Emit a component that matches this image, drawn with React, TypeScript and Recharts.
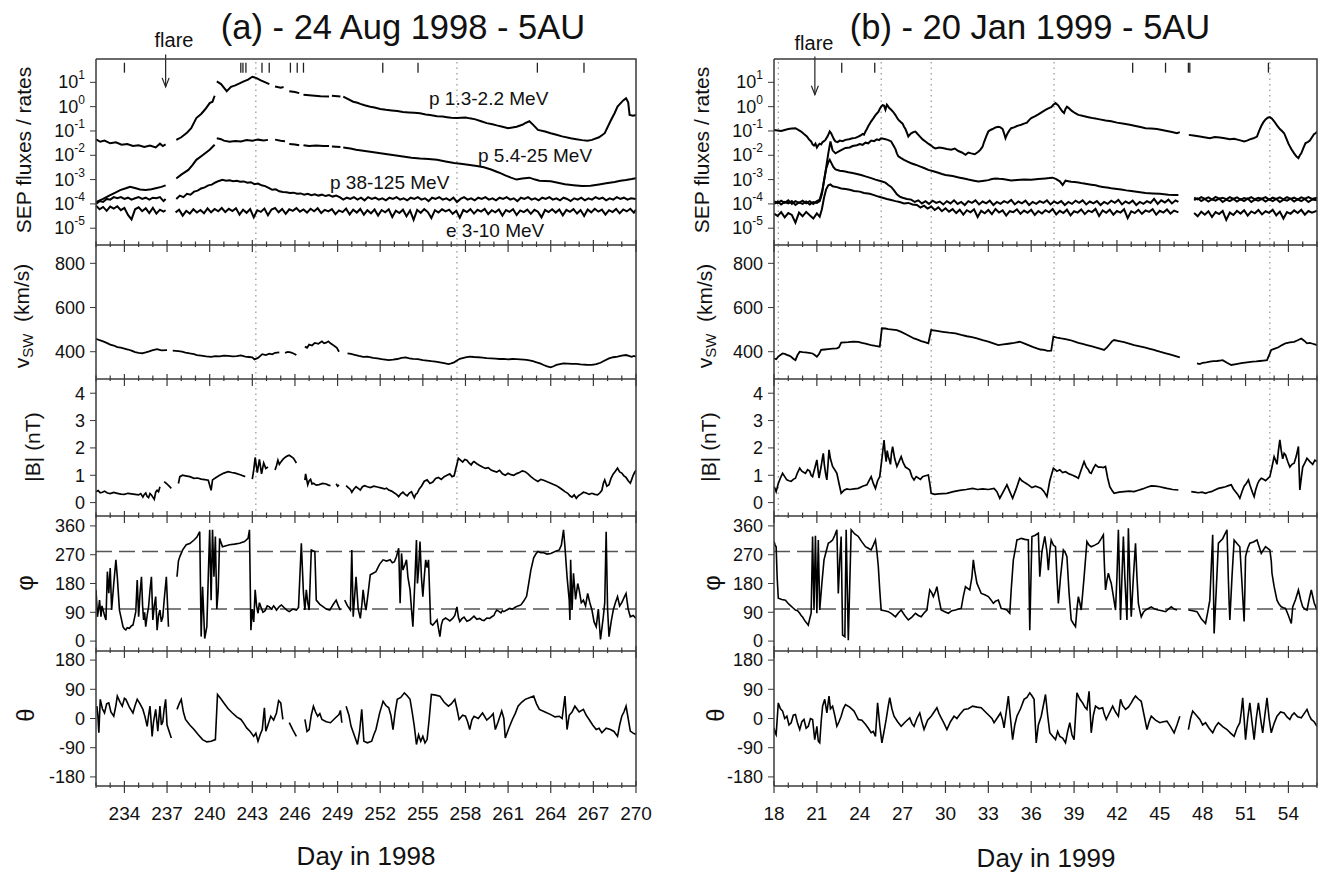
import type { ReactNode } from 'react'
import { LineChart, Line, XAxis, YAxis, ReferenceLine } from 'recharts'

const FONT = "'Liberation Sans', Arial, Helvetica, sans-serif"
const INK = '#111'
const FRAME = '#3a3a3a'
const YW = 90

type Pt = [number, number | null]

// ---- x axes ----
const LEFT_DAYS = [232, 233, 234, 235, 236, 237, 238, 239, 240, 241, 242, 243, 244, 245, 246, 247, 248, 249, 250, 251, 252, 253, 254, 255, 256, 257, 258, 259, 260, 261, 262, 263, 264, 265, 266, 267, 268, 269, 270]
const RIGHT_DAYS = [18, 19, 20, 21, 22, 23, 24, 25, 26, 27, 28, 29, 30, 31, 32, 33, 34, 35, 36, 37, 38, 39, 40, 41, 42, 43, 44, 45, 46, 47, 48, 49, 50, 51, 52, 53, 54, 55, 56]

const SEP_TICKS = [1e-5, 1e-4, 1e-3, 1e-2, 1e-1, 1, 10]
const VSW_TICKS = [400, 600, 800]
const B_TICKS = [0, 1, 2, 3, 4]
const PHI_TICKS = [0, 90, 180, 270, 360]
const THETA_TICKS = [-180, -90, 0, 90, 180]
const PHI_SPIRAL = [100, 280]

// ---- events ----
const LEFT_FLARE = 236.9
const RIGHT_FLARE = 20.86
const LEFT_EVENTS = [234.0, 242.19, 242.34, 242.55, 243.68, 244.19, 245.68, 246.16, 246.6, 252.18, 254.66, 263.06, 266.34]
const RIGHT_EVENTS = [22.74, 25.05, 43.1, 45.4, 47.0, 47.1, 52.6]
const LEFT_DOTTED = [243.25, 257.4]
const RIGHT_DOTTED = [18.3, 25.5, 29.0, 37.6, 52.7]

// ---- (a) 1998 SEP ----
const L_P13: Pt[] = [[232.0,0.045],[232.3,0.036],[232.6,0.040],[233.0,0.031],[233.4,0.034],[233.8,0.027],[234.2,0.029],[234.6,0.024],[235.0,0.026],[235.4,0.022],[235.8,0.025],[236.2,0.021],[236.5,0.030],[236.7,0.024],[236.9,0.028],[237.1,null],[237.65,0.043],[238.0,0.055],[238.4,0.085],[238.7,0.13],[239.06,0.34],[239.4,0.5],[239.7,0.8],[240.0,1.4],[240.2,1.6],[240.35,2.8],[240.42,null],[240.5,11],[240.8,8.5],[241.0,6.0],[241.2,4.3],[241.5,6.5],[241.8,7.5],[242.1,9.0],[242.4,11],[242.7,13],[243.0,17],[243.3,15],[243.6,12],[244.0,9.5],[244.2,8.5],[244.35,null],[244.6,6.8],[245.0,6.0],[245.2,6.4],[245.35,null],[245.6,4.3],[246.0,4.0],[246.3,3.6],[246.45,null],[246.6,3.1],[247.2,2.9],[247.8,2.7],[248.4,2.6],[248.5,null],[248.6,2.8],[249.2,2.6],[249.3,null],[249.4,2.6],[250.1,1.6],[250.4,1.45],[250.6,1.3],[250.9,1.15],[251.3,1.0],[251.6,0.92],[252.0,0.8],[252.4,0.74],[252.8,0.70],[253.2,0.66],[253.6,0.60],[254.0,0.58],[254.4,0.56],[254.8,0.53],[255.2,0.48],[255.5,0.45],[256.0,0.40],[256.4,0.39],[256.7,0.37],[257.0,0.35],[257.4,0.34],[258.0,0.36],[258.3,0.33],[258.7,0.30],[259.1,0.25],[259.5,0.21],[259.9,0.19],[260.2,0.17],[260.6,0.15],[261.0,0.13],[261.3,0.14],[261.6,0.15],[262.0,0.18],[262.2,0.21],[262.5,0.25],[262.8,0.17],[263.1,0.11],[263.6,0.095],[264.0,0.081],[264.4,0.070],[264.8,0.060],[265.4,0.050],[265.8,0.046],[266.2,0.042],[266.6,0.040],[266.9,0.043],[267.4,0.055],[267.8,0.081],[268.2,0.25],[268.5,0.55],[268.7,1.0],[269.1,1.8],[269.3,2.2],[269.45,1.5],[269.55,0.46],[269.8,0.42],[270.0,0.45]]

const L_P54: Pt[] = [[232.0,1.2e-4],[232.5,1.6e-4],[233.0,2.3e-4],[233.4,3.0e-4],[233.7,3.7e-4],[234.1,4.4e-4],[234.4,5.1e-4],[234.8,4.4e-4],[235.1,3.9e-4],[235.5,3.7e-4],[235.9,4.0e-4],[236.2,4.4e-4],[236.6,5.0e-4],[236.9,5.8e-4],[237.1,null],[237.65,1.1e-3],[238.0,1.6e-3],[238.5,2.5e-3],[238.8,4.0e-3],[239.06,6.5e-3],[239.5,1.0e-2],[240.0,1.7e-2],[240.35,2.7e-2],[240.42,null],[240.5,5.0e-2],[240.8,4.6e-2],[241.0,4.0e-2],[241.4,3.6e-2],[241.8,3.9e-2],[242.2,3.7e-2],[242.6,4.2e-2],[243.0,4.0e-2],[243.4,4.4e-2],[243.8,4.1e-2],[244.1,4.3e-2],[244.3,null],[244.6,4.4e-2],[245.0,4.0e-2],[245.3,3.8e-2],[245.45,null],[245.6,2.9e-2],[246.0,2.8e-2],[246.3,2.6e-2],[246.45,null],[246.6,2.6e-2],[247.0,2.4e-2],[247.5,2.5e-2],[248.0,2.4e-2],[248.4,2.4e-2],[248.5,null],[248.6,2.3e-2],[249.2,2.2e-2],[249.3,null],[249.4,2.1e-2],[249.9,1.9e-2],[250.3,1.7e-2],[250.8,1.55e-2],[251.3,1.4e-2],[251.9,1.25e-2],[252.5,1.1e-2],[253.0,1.0e-2],[253.6,8.9e-3],[254.2,8.0e-3],[254.8,7.4e-3],[255.4,7.0e-3],[256.0,6.5e-3],[256.6,5.6e-3],[257.2,4.8e-3],[257.8,4.4e-3],[258.3,4.0e-3],[258.8,3.6e-3],[259.3,3.2e-3],[259.8,2.6e-3],[260.2,2.1e-3],[260.5,1.8e-3],[260.8,1.5e-3],[261.2,1.2e-3],[261.6,1.0e-3],[262.0,1.1e-3],[262.5,1.2e-3],[262.9,1.0e-3],[263.2,9.0e-4],[263.6,8.8e-4],[264.0,8.5e-4],[264.5,7.4e-4],[265.0,6.5e-4],[265.6,5.9e-4],[266.2,5.4e-4],[266.8,5.6e-4],[267.4,6.3e-4],[267.9,7.0e-4],[268.5,8.0e-4],[268.9,8.9e-4],[269.3,9.6e-4],[269.7,1.05e-3],[270.0,1.15e-3]]

const L_P38: Pt[] = [[232.0,1.0e-4],[232.25,1.3e-4],[232.5,1.2e-4],[232.75,1.6e-4],[233.0,1.5e-4],[233.25,1.9e-4],[233.5,1.7e-4],[233.75,1.9e-4],[234.0,1.6e-4],[234.25,1.8e-4],[234.5,1.5e-4],[234.75,1.7e-4],[235.0,1.9e-4],[235.25,1.6e-4],[235.5,1.8e-4],[235.75,1.5e-4],[236.0,1.8e-4],[236.25,1.7e-4],[236.5,1.9e-4],[236.75,1.3e-4],[236.9,1.6e-4],[237.1,null],[237.65,1.6e-4],[237.9,2.2e-4],[238.15,1.9e-4],[238.4,2.6e-4],[238.65,2.4e-4],[238.9,3.2e-4],[239.15,3.5e-4],[239.4,4.3e-4],[239.65,4.8e-4],[239.9,5.8e-4],[240.15,6.2e-4],[240.4,7.6e-4],[240.65,8.8e-4],[240.9,9.8e-4],[241.15,9.0e-4],[241.4,9.4e-4],[241.65,8.6e-4],[241.9,8.9e-4],[242.15,8.1e-4],[242.4,8.4e-4],[242.65,7.4e-4],[242.9,7.8e-4],[243.15,6.5e-4],[243.4,6.9e-4],[243.65,5.8e-4],[243.9,5.4e-4],[244.15,4.6e-4],[244.4,3.8e-4],[244.65,4.0e-4],[244.9,3.3e-4],[245.15,3.1e-4],[245.4,3.0e-4],[245.65,2.8e-4],[245.9,2.9e-4],[246.15,2.6e-4],[246.4,2.7e-4],[246.65,2.4e-4],[246.9,2.6e-4],[247.15,2.3e-4],[247.4,2.5e-4],[247.65,2.2e-4],[247.9,2.4e-4],[248.15,2.1e-4],[248.4,2.3e-4],[248.65,2.0e-4],[248.9,2.2e-4],[249.15,1.9e-4],[249.4,1.5e-4],[249.65,1.8e-4],[249.9,1.6e-4],[250.15,1.9e-4],[250.4,1.5e-4],[250.65,1.8e-4],[250.9,1.4e-4],[251.15,1.9e-4],[251.4,1.6e-4],[251.65,1.8e-4],[251.9,1.5e-4],[252.15,1.7e-4],[252.4,1.4e-4],[252.65,1.8e-4],[252.9,1.6e-4],[253.15,1.9e-4],[253.4,1.5e-4],[253.65,1.7e-4],[253.9,1.4e-4],[254.15,1.8e-4],[254.4,1.6e-4],[254.65,1.9e-4],[254.9,1.5e-4],[255.15,1.7e-4],[255.4,1.3e-4],[255.65,1.8e-4],[255.9,1.6e-4],[256.15,1.9e-4],[256.4,1.5e-4],[256.65,1.7e-4],[256.9,1.4e-4],[257.15,1.8e-4],[257.4,1.2e-4],[257.65,1.6e-4],[257.9,1.9e-4],[258.15,1.5e-4],[258.4,1.7e-4],[258.65,1.4e-4],[258.9,1.8e-4],[259.15,1.6e-4],[259.4,1.9e-4],[259.65,1.5e-4],[259.9,1.7e-4],[260.15,1.4e-4],[260.4,1.8e-4],[260.65,1.6e-4],[260.9,1.9e-4],[261.15,1.5e-4],[261.4,1.7e-4],[261.65,1.3e-4],[261.9,1.8e-4],[262.15,1.6e-4],[262.4,1.9e-4],[262.65,1.5e-4],[262.9,1.7e-4],[263.15,1.4e-4],[263.4,1.8e-4],[263.65,1.6e-4],[263.9,1.9e-4],[264.15,1.5e-4],[264.4,1.7e-4],[264.65,1.4e-4],[264.9,1.8e-4],[265.15,1.6e-4],[265.4,1.3e-4],[265.65,1.7e-4],[265.9,1.5e-4],[266.15,1.8e-4],[266.4,1.4e-4],[266.65,1.7e-4],[266.9,1.5e-4],[267.15,1.9e-4],[267.4,1.6e-4],[267.65,1.8e-4],[267.9,1.4e-4],[268.15,1.7e-4],[268.4,1.5e-4],[268.65,1.9e-4],[268.9,1.6e-4],[269.15,1.8e-4],[269.4,1.5e-4],[269.65,1.7e-4],[270.0,1.6e-4]]

const L_E: Pt[] = [[232.0,8.5e-5],[232.25,6.0e-5],[232.5,7.5e-5],[232.75,5.2e-5],[233.0,7.8e-5],[233.25,6.4e-5],[233.5,8.0e-5],[233.75,5.5e-5],[234.0,6.8e-5],[234.25,3.5e-5],[234.5,2.3e-5],[234.75,6.0e-5],[235.0,7.2e-5],[235.25,5.0e-5],[235.5,6.6e-5],[235.75,4.2e-5],[236.0,6.9e-5],[236.25,4.0e-5],[236.5,5.8e-5],[236.75,4.8e-5],[236.9,5.5e-5],[237.1,null],[237.6,4.5e-5],[237.85,5.8e-5],[238.1,3.3e-5],[238.35,5.2e-5],[238.6,4.0e-5],[238.85,6.0e-5],[239.1,4.4e-5],[239.35,5.6e-5],[239.6,4.1e-5],[239.85,6.5e-5],[240.1,4.5e-5],[240.35,6.2e-5],[240.6,5.0e-5],[240.85,6.8e-5],[241.1,4.6e-5],[241.35,6.3e-5],[241.6,5.1e-5],[241.85,6.6e-5],[242.1,3.6e-5],[242.35,5.8e-5],[242.6,4.3e-5],[242.85,6.1e-5],[243.1,2.8e-5],[243.35,5.5e-5],[243.6,4.7e-5],[243.85,6.4e-5],[244.1,3.4e-5],[244.35,5.9e-5],[244.6,6.8e-5],[244.85,4.5e-5],[245.1,6.2e-5],[245.35,3.9e-5],[245.6,6.0e-5],[245.85,5.2e-5],[246.1,6.7e-5],[246.35,4.8e-5],[246.6,5.9e-5],[246.85,4.4e-5],[247.1,6.3e-5],[247.35,5.0e-5],[247.6,6.6e-5],[247.85,4.2e-5],[248.1,5.7e-5],[248.35,4.9e-5],[248.6,6.1e-5],[248.85,3.8e-5],[249.1,5.4e-5],[249.35,4.6e-5],[249.6,6.4e-5],[249.85,3.7e-5],[250.1,5.8e-5],[250.35,4.4e-5],[250.6,6.2e-5],[250.85,3.6e-5],[251.1,5.5e-5],[251.35,4.1e-5],[251.6,5.9e-5],[251.85,3.3e-5],[252.1,5.6e-5],[252.35,4.5e-5],[252.6,6.0e-5],[252.85,2.9e-5],[253.1,5.3e-5],[253.35,4.2e-5],[253.6,5.8e-5],[253.85,3.1e-5],[254.1,5.4e-5],[254.35,2.2e-5],[254.6,5.7e-5],[254.85,4.3e-5],[255.1,6.1e-5],[255.35,4.6e-5],[255.6,2.6e-5],[255.85,5.5e-5],[256.1,4.4e-5],[256.35,6.0e-5],[256.6,4.9e-5],[256.85,5.8e-5],[257.1,3.9e-5],[257.35,5.2e-5],[257.6,2.7e-5],[257.85,5.6e-5],[258.1,4.6e-5],[258.35,6.1e-5],[258.6,4.0e-5],[258.85,5.7e-5],[259.1,4.8e-5],[259.35,6.2e-5],[259.6,3.8e-5],[259.85,5.5e-5],[260.1,4.5e-5],[260.35,5.9e-5],[260.6,3.3e-5],[260.85,5.6e-5],[261.1,4.7e-5],[261.35,6.0e-5],[261.6,3.5e-5],[261.85,5.4e-5],[262.1,4.6e-5],[262.35,5.8e-5],[262.6,3.9e-5],[262.85,5.7e-5],[263.1,4.8e-5],[263.35,2.8e-5],[263.6,5.6e-5],[263.85,4.6e-5],[264.1,6.0e-5],[264.35,4.4e-5],[264.6,5.9e-5],[264.85,3.4e-5],[265.1,5.7e-5],[265.35,4.7e-5],[265.6,6.1e-5],[265.85,4.0e-5],[266.1,5.6e-5],[266.35,3.2e-5],[266.6,5.9e-5],[266.85,4.5e-5],[267.1,6.3e-5],[267.35,4.8e-5],[267.6,5.8e-5],[267.85,3.6e-5],[268.1,5.5e-5],[268.35,4.6e-5],[268.6,6.2e-5],[268.85,4.1e-5],[269.1,5.9e-5],[269.35,4.9e-5],[269.6,6.3e-5],[269.85,4.4e-5],[270.0,5.8e-5]]

// ---- (a) 1998 solar wind ----
const L_VSW: Pt[] = [[232.0,458],[232.25,452],[232.5,447],[232.75,440],[233.0,432],[233.25,428],[233.5,421],[233.75,418],[234.0,414],[234.25,410],[234.5,405],[234.75,398],[235.0,395],[235.25,393],[235.5,397],[235.75,402],[236.0,407],[236.3,412],[236.6,406],[237.0,407],[237.15,null],[237.4,405],[237.8,403],[238.05,400],[238.3,396],[238.6,392],[238.9,389],[239.1,385],[239.4,382],[239.75,379],[240.1,377],[240.4,380],[240.7,379],[241.0,382],[241.3,381],[241.6,379],[241.9,380],[242.2,383],[242.5,378],[242.75,376],[243.0,374],[243.15,365],[243.4,372],[243.7,389],[243.95,385],[244.2,391],[244.4,388],[244.6,395],[244.9,397],[245.1,null],[245.3,395],[245.5,399],[245.7,397],[245.9,392],[246.1,385],[246.35,null],[246.7,423],[246.85,418],[247.0,432],[247.2,428],[247.4,440],[247.65,436],[247.9,447],[248.05,438],[248.2,441],[248.35,447],[248.5,438],[248.65,432],[248.8,425],[248.95,418],[249.1,400],[249.3,null],[249.7,392],[249.95,390],[250.2,386],[250.5,381],[250.8,377],[251.1,378],[251.5,372],[251.8,370],[252.1,366],[252.35,364],[252.6,362],[252.9,364],[253.2,367],[253.5,372],[253.8,374],[254.05,370],[254.3,368],[254.65,366],[255.0,362],[255.3,360],[255.6,357],[255.9,355],[256.2,352],[256.5,348],[256.8,344],[257.0,347],[257.2,352],[257.4,360],[257.6,368],[257.8,371],[258.0,374],[258.3,378],[258.6,376],[258.9,375],[259.2,373],[259.5,371],[259.8,370],[260.1,369],[260.4,367],[260.7,368],[261.0,365],[261.3,367],[261.6,366],[261.85,365],[262.1,364],[262.3,363],[262.5,361],[262.75,357],[263.0,352],[263.25,347],[263.5,340],[263.75,334],[264.0,329],[264.2,334],[264.4,340],[264.65,344],[264.9,347],[265.2,346],[265.5,345],[265.8,345],[266.1,343],[266.5,341],[266.9,340],[267.2,344],[267.5,350],[267.8,360],[268.1,370],[268.4,375],[268.7,378],[269.0,382],[269.3,385],[269.5,381],[269.7,377],[269.85,381],[270.0,378]]

const L_B: Pt[] = [[232.0,0.40],[232.15,0.44],[232.3,0.36],[232.45,0.38],[232.6,0.42],[232.8,0.35],[233.0,0.33],[233.25,0.37],[233.5,0.34],[233.75,0.31],[234.0,0.30],[234.25,0.34],[234.5,0.32],[234.75,0.30],[235.0,0.28],[235.15,0.33],[235.3,0.20],[235.4,0.30],[235.5,0.35],[235.6,0.22],[235.7,0.18],[235.8,0.33],[235.9,0.28],[236.0,0.20],[236.1,0.12],[236.2,0.38],[236.3,0.45],[236.4,0.40],[236.5,0.58],[236.6,null],[236.8,0.77],[237.0,0.68],[237.15,0.60],[237.3,0.52],[237.4,null],[237.8,0.70],[237.9,0.95],[238.1,1.00],[238.3,0.98],[238.6,0.95],[238.9,0.89],[239.15,0.90],[239.4,0.86],[239.65,0.84],[239.9,0.82],[240.1,0.45],[240.2,0.83],[240.45,0.92],[240.7,1.0],[241.0,1.08],[241.3,1.13],[241.55,1.10],[241.8,1.08],[242.15,1.02],[242.5,0.95],[242.7,null],[243.0,0.86],[243.1,1.2],[243.2,1.65],[243.35,1.1],[243.5,1.58],[243.65,1.05],[243.8,1.45],[243.95,1.25],[244.1,1.3],[244.3,null],[244.6,1.19],[244.7,1.35],[244.8,1.55],[244.9,1.40],[245.0,1.48],[245.15,1.58],[245.3,1.65],[245.45,1.70],[245.6,1.73],[245.75,1.68],[245.9,1.62],[246.1,1.45],[246.3,null],[246.7,0.82],[246.75,1.05],[246.9,0.65],[247.0,0.80],[247.1,0.85],[247.2,0.68],[247.3,0.71],[247.5,0.64],[247.7,0.66],[247.95,0.70],[248.2,0.68],[248.35,0.64],[248.5,0.62],[248.7,null],[248.9,0.69],[249.0,0.60],[249.1,0.65],[249.3,null],[249.6,0.62],[249.75,0.55],[249.9,0.48],[250.0,0.38],[250.15,0.50],[250.3,0.58],[250.45,0.52],[250.6,0.46],[250.75,0.58],[250.9,0.62],[251.1,0.58],[251.3,0.55],[251.55,0.60],[251.8,0.57],[252.05,0.54],[252.3,0.50],[252.45,0.53],[252.6,0.46],[252.8,0.42],[253.0,0.35],[253.15,0.30],[253.3,0.22],[253.45,0.32],[253.6,0.38],[253.75,0.30],[253.9,0.25],[254.05,0.35],[254.2,0.40],[254.3,0.28],[254.4,0.18],[254.5,0.30],[254.6,0.34],[254.75,0.50],[254.9,0.60],[255.1,0.78],[255.3,0.83],[255.5,0.70],[255.7,0.75],[255.9,0.88],[256.1,0.92],[256.3,0.85],[256.5,0.95],[256.7,1.00],[256.9,1.05],[257.05,0.95],[257.2,0.98],[257.35,1.30],[257.5,1.62],[257.65,1.55],[257.8,1.48],[257.95,1.58],[258.1,1.55],[258.25,1.45],[258.4,1.38],[258.5,1.46],[258.6,1.50],[258.8,1.42],[259.0,1.36],[259.2,1.30],[259.4,1.25],[259.6,1.28],[259.8,1.19],[260.0,1.15],[260.2,1.12],[260.4,1.18],[260.6,1.05],[260.8,1.00],[261.0,1.07],[261.2,1.02],[261.4,1.0],[261.6,1.06],[261.8,1.10],[262.0,1.16],[262.2,1.13],[262.4,1.05],[262.6,0.95],[262.85,0.85],[263.1,0.77],[263.3,0.85],[263.5,0.82],[263.75,0.76],[264.0,0.71],[264.2,0.66],[264.4,0.62],[264.6,0.55],[264.8,0.48],[265.0,0.40],[265.2,0.34],[265.35,0.25],[265.5,0.20],[265.65,0.28],[265.8,0.16],[265.95,0.25],[266.1,0.30],[266.3,0.38],[266.5,0.35],[266.7,0.30],[266.9,0.34],[267.1,0.30],[267.3,0.28],[267.45,0.35],[267.6,0.45],[267.7,0.70],[267.8,0.83],[267.95,0.60],[268.1,0.65],[268.25,0.90],[268.4,1.05],[268.55,1.15],[268.7,1.26],[268.85,1.12],[269.0,1.08],[269.15,0.98],[269.3,0.92],[269.45,0.80],[269.6,0.71],[269.7,0.85],[269.8,1.0],[269.9,1.10],[270.0,1.19]]

const L_PHI: Pt[] = [[232.0,160],[232.05,120],[232.1,76],[232.18,100],[232.25,128],[232.35,76],[232.42,110],[232.5,97],[232.6,80],[232.7,66],[232.8,217],[232.9,150],[233.0,228],[233.1,97],[233.25,180],[233.4,254],[233.5,200],[233.65,97],[233.78,70],[233.9,45],[234.0,38],[234.1,35],[234.2,42],[234.35,40],[234.5,48],[234.6,50],[234.7,70],[234.8,92],[234.9,191],[235.0,76],[235.1,150],[235.2,201],[235.28,110],[235.35,66],[235.42,90],[235.5,45],[235.6,80],[235.7,107],[235.8,160],[235.9,201],[236.0,66],[236.1,110],[236.2,139],[236.3,34],[236.4,80],[236.5,97],[236.6,60],[236.7,76],[236.8,130],[236.95,201],[237.1,45],[237.2,null],[237.7,201],[237.8,250],[237.9,264],[238.1,285],[238.35,301],[238.6,305],[238.9,316],[239.1,325],[239.3,342],[239.4,14],[239.5,170],[239.65,8],[239.8,45],[239.9,200],[240.0,348],[240.1,128],[240.2,348],[240.3,201],[240.4,327],[240.5,100],[240.6,160],[240.7,321],[240.9,295],[241.15,298],[241.4,301],[241.75,303],[242.1,306],[242.45,311],[242.7,321],[242.8,348],[242.9,34],[243.0,100],[243.1,60],[243.2,160],[243.3,110],[243.4,87],[243.5,120],[243.6,107],[243.75,90],[243.9,95],[244.05,110],[244.2,107],[244.35,100],[244.5,110],[244.6,104],[244.7,97],[244.9,108],[245.05,113],[245.3,102],[245.45,96],[245.6,92],[245.85,100],[246.1,97],[246.25,105],[246.45,306],[246.55,200],[246.6,149],[246.7,97],[246.8,160],[246.9,120],[247.0,97],[247.15,285],[247.3,282],[247.4,280],[247.5,128],[247.75,115],[248.0,107],[248.2,100],[248.45,97],[248.7,115],[248.9,128],[249.05,110],[249.2,97],[249.3,null],[249.5,128],[249.7,110],[249.9,97],[250.0,285],[250.1,76],[250.2,140],[250.3,201],[250.45,100],[250.6,71],[250.7,110],[250.8,160],[250.9,120],[251.0,97],[251.15,150],[251.3,207],[251.5,212],[251.7,217],[251.95,240],[252.2,254],[252.45,250],[252.7,254],[252.85,245],[253.0,248],[253.15,265],[253.3,290],[253.4,118],[253.5,274],[253.6,222],[253.75,240],[253.85,254],[253.95,200],[254.1,160],[254.2,100],[254.3,45],[254.45,200],[254.55,316],[254.62,180],[254.7,222],[254.8,311],[254.9,200],[255.0,139],[255.1,200],[255.2,254],[255.3,230],[255.4,254],[255.55,55],[255.7,50],[255.85,58],[256.0,66],[256.1,40],[256.2,14],[256.3,50],[256.4,66],[256.6,72],[256.75,68],[256.9,63],[257.1,71],[257.25,80],[257.4,107],[257.5,75],[257.6,61],[257.75,70],[257.9,75],[258.1,62],[258.3,66],[258.45,72],[258.6,78],[258.8,68],[259.0,71],[259.15,66],[259.3,64],[259.5,72],[259.7,71],[259.85,76],[260.0,80],[260.1,90],[260.2,97],[260.35,93],[260.5,88],[260.6,95],[260.7,92],[260.9,97],[261.1,102],[261.3,100],[261.5,106],[261.7,110],[261.9,113],[262.1,125],[262.3,140],[262.45,180],[262.6,222],[262.8,260],[262.95,272],[263.1,280],[263.3,276],[263.5,276],[263.75,272],[264.0,274],[264.3,280],[264.6,285],[264.75,300],[264.9,348],[265.0,295],[265.15,200],[265.3,128],[265.35,66],[265.4,254],[265.5,97],[265.6,212],[265.75,130],[265.9,180],[266.0,160],[266.15,120],[266.3,128],[266.45,110],[266.6,149],[266.75,120],[266.9,97],[267.05,60],[267.2,45],[267.35,100],[267.5,5],[267.6,40],[267.7,76],[267.8,120],[267.9,342],[268.0,100],[268.1,14],[268.25,60],[268.4,97],[268.55,120],[268.7,139],[268.85,110],[269.0,120],[269.15,135],[269.3,149],[269.45,100],[269.6,76],[269.8,80],[270.0,71]]

const L_THETA: Pt[] = [[232.06,38],[232.13,10],[232.2,-44],[232.3,59],[232.45,30],[232.6,17],[232.75,45],[232.9,48],[233.05,20],[233.25,7],[233.4,40],[233.5,69],[233.7,50],[233.85,38],[234.0,62],[234.1,59],[234.35,35],[234.6,17],[234.75,40],[234.9,59],[235.1,45],[235.3,28],[235.45,5],[235.6,-24],[235.7,10],[235.8,38],[235.95,-55],[236.05,-10],[236.2,28],[236.35,-39],[236.5,38],[236.6,-20],[236.7,-10],[236.8,30],[236.9,59],[237.0,-20],[237.3,-60],[237.35,null],[237.7,28],[237.85,45],[238.0,59],[238.15,20],[238.3,-3],[238.6,-20],[238.9,-34],[239.2,-50],[239.5,-65],[239.8,-72],[240.1,-70],[240.4,-65],[240.55,74],[240.8,60],[241.0,48],[241.3,30],[241.6,17],[241.9,5],[242.2,-3],[242.4,-15],[242.6,-29],[242.85,-40],[243.1,-55],[243.25,-45],[243.4,-70],[243.55,-50],[243.7,-34],[243.85,33],[243.95,-39],[244.1,-20],[244.3,7],[244.5,-5],[244.7,17],[244.85,55],[245.0,48],[245.15,-3],[245.3,null],[245.6,-13],[245.85,-35],[246.1,-55],[246.3,null],[246.7,-3],[246.85,-40],[247.0,-34],[247.15,10],[247.3,38],[247.45,20],[247.6,7],[247.75,15],[247.9,-3],[248.2,-10],[248.5,-13],[248.8,0],[249.1,12],[249.2,25],[249.3,-13],[249.45,null],[249.6,38],[249.8,10],[249.95,-24],[250.2,-55],[250.4,-80],[250.55,-40],[250.7,28],[250.85,-70],[251.1,-75],[251.4,-70],[251.55,-50],[251.7,-34],[251.95,15],[252.2,53],[252.4,40],[252.6,33],[252.75,10],[252.9,-34],[253.05,20],[253.2,59],[253.45,65],[253.7,79],[253.9,70],[254.1,59],[254.25,20],[254.4,-24],[254.55,-80],[254.7,-50],[254.85,-70],[255.0,-55],[255.15,-75],[255.3,-65],[255.45,0],[255.6,74],[255.9,72],[256.2,69],[256.5,50],[256.8,38],[257.0,45],[257.25,59],[257.4,30],[257.55,-3],[257.8,10],[258.0,7],[258.15,-10],[258.3,-34],[258.45,-5],[258.6,7],[258.9,0],[259.2,17],[259.5,-5],[259.8,7],[259.95,15],[260.1,-34],[260.3,-10],[260.55,23],[260.7,0],[260.8,-60],[261.05,-30],[261.3,-3],[261.5,15],[261.7,38],[261.95,50],[262.2,59],[262.5,64],[262.8,69],[263.0,45],[263.2,28],[263.6,20],[264.0,12],[264.3,5],[264.6,7],[264.8,0],[265.0,69],[265.15,-34],[265.3,10],[265.5,20],[265.7,38],[266.0,20],[266.3,28],[266.5,10],[266.7,-3],[266.95,-20],[267.2,-34],[267.4,-30],[267.6,-44],[267.9,-30],[268.2,-34],[268.45,-40],[268.7,-55],[268.85,-20],[269.0,7],[269.15,20],[269.3,38],[269.45,0],[269.6,-39],[269.8,-45],[270.0,-49]]

// ---- (b) 1999 SEP ----
const R_P13: Pt[] = [[18.0,0.11],[18.25,0.105],[18.5,0.10],[18.75,0.11],[19.0,0.12],[19.25,0.125],[19.5,0.13],[19.7,0.11],[19.9,0.095],[20.1,0.075],[20.3,0.06],[20.45,0.045],[20.6,0.037],[20.7,0.028],[20.8,0.025],[20.9,0.03],[21.0,0.021],[21.1,0.026],[21.2,0.03],[21.3,0.028],[21.4,0.035],[21.5,0.038],[21.6,0.043],[21.75,0.06],[21.9,0.095],[22.0,0.08],[22.1,0.06],[22.2,0.045],[22.3,0.037],[22.45,0.035],[22.6,0.04],[22.8,0.038],[23.0,0.043],[23.25,0.046],[23.5,0.05],[23.7,0.052],[23.9,0.059],[24.05,0.065],[24.2,0.075],[24.3,0.07],[24.4,0.095],[24.5,0.12],[24.6,0.16],[24.7,0.2],[24.8,0.25],[24.95,0.33],[25.1,0.45],[25.2,0.52],[25.3,0.6],[25.4,0.8],[25.5,1.0],[25.6,1.15],[25.7,1.1],[25.8,0.75],[25.9,1.2],[26.0,1.0],[26.05,0.9],[26.2,0.74],[26.35,0.6],[26.5,0.45],[26.6,0.36],[26.7,0.29],[26.85,0.24],[27.0,0.2],[27.1,0.15],[27.2,0.12],[27.3,0.085],[27.4,0.059],[27.5,0.07],[27.6,0.08],[27.75,0.09],[27.9,0.095],[28.05,0.075],[28.2,0.06],[28.4,0.045],[28.6,0.037],[28.8,0.03],[29.0,0.025],[29.15,0.021],[29.3,0.019],[29.55,0.021],[29.8,0.02],[30.1,0.018],[30.4,0.017],[30.65,0.019],[30.9,0.015],[31.15,0.013],[31.4,0.0105],[31.6,0.013],[31.8,0.012],[32.05,0.011],[32.3,0.014],[32.45,0.017],[32.6,0.023],[32.7,0.035],[32.8,0.05],[32.9,0.07],[33.0,0.095],[33.15,0.11],[33.3,0.12],[33.5,0.14],[33.7,0.15],[33.85,0.14],[34.0,0.12],[34.1,0.08],[34.2,0.05],[34.3,0.07],[34.4,0.09],[34.5,0.11],[34.6,0.13],[34.8,0.14],[35.0,0.16],[35.15,0.17],[35.3,0.18],[35.5,0.2],[35.7,0.22],[35.85,0.28],[36.0,0.34],[36.25,0.4],[36.5,0.48],[36.75,0.6],[37.0,0.74],[37.2,0.85],[37.4,0.95],[37.55,1.2],[37.7,1.4],[37.8,1.25],[37.9,1.1],[38.0,0.9],[38.1,0.74],[38.2,0.62],[38.3,0.55],[38.4,0.8],[38.5,1.0],[38.65,0.85],[38.8,0.7],[39.05,0.55],[39.3,0.46],[39.65,0.41],[40.0,0.37],[40.4,0.33],[40.8,0.3],[41.2,0.27],[41.6,0.25],[42.0,0.22],[42.5,0.2],[42.9,0.18],[43.3,0.16],[43.65,0.145],[44.0,0.13],[44.4,0.125],[44.8,0.12],[45.15,0.11],[45.5,0.1],[45.85,0.09],[46.2,0.081],[46.4,0.09],[46.6,null],[47.03,0.069],[47.35,0.065],[47.7,0.06],[48.1,0.055],[48.5,0.05],[48.85,0.056],[49.2,0.054],[49.55,0.05],[49.9,0.046],[50.2,0.048],[50.5,0.043],[50.7,0.04],[50.9,0.037],[51.1,0.04],[51.3,0.045],[51.55,0.05],[51.8,0.059],[51.95,0.1],[52.1,0.16],[52.25,0.23],[52.4,0.3],[52.55,0.35],[52.7,0.37],[52.85,0.32],[53.0,0.25],[53.2,0.17],[53.4,0.12],[53.55,0.1],[53.7,0.081],[53.85,0.05],[54.0,0.03],[54.2,0.018],[54.4,0.012],[54.55,0.009],[54.7,0.0076],[54.8,0.01],[54.9,0.012],[55.05,0.02],[55.2,0.032],[55.35,0.035],[55.5,0.04],[55.65,0.055],[55.8,0.075],[55.9,0.08],[56.0,0.095]]

const R_P54: Pt[] = [[18.0,1.3e-4],[18.25,1.05e-4],[18.5,1.35e-4],[18.75,1.1e-4],[19.0,1.4e-4],[19.25,1.0e-4],[19.5,1.3e-4],[19.75,1.1e-4],[20.0,1.35e-4],[20.25,1.05e-4],[20.5,1.3e-4],[20.75,1.0e-4],[21.0,1.3e-4],[21.2,1.5e-4],[21.4,4e-4],[21.6,2e-3],[21.8,1.2e-2],[21.95,3.7e-2],[22.1,1.6e-2],[22.3,1.2e-2],[22.6,1.5e-2],[23.0,2.0e-2],[23.3,2.1e-2],[23.5,2.4e-2],[23.8,2.6e-2],[24.0,2.9e-2],[24.2,2.7e-2],[24.4,3.3e-2],[24.6,3.1e-2],[24.8,4.0e-2],[25.0,3.8e-2],[25.2,4.5e-2],[25.35,4.2e-2],[25.5,5.0e-2],[25.65,4.8e-2],[25.8,4.6e-2],[26.0,4.2e-2],[26.2,3.7e-2],[26.35,2.6e-2],[26.5,1.8e-2],[26.6,1.2e-2],[26.7,9.0e-3],[26.9,7.6e-3],[27.1,6.5e-3],[27.35,5.5e-3],[27.6,4.7e-3],[27.9,4.1e-3],[28.2,3.5e-3],[28.5,3.0e-3],[28.8,2.5e-3],[29.15,2.2e-3],[29.5,1.9e-3],[29.75,1.7e-3],[30.0,1.55e-3],[30.5,1.4e-3],[31.0,1.2e-3],[31.3,1.1e-3],[31.6,1.0e-3],[32.0,9.0e-4],[32.3,8.3e-4],[32.6,8.8e-4],[33.0,9.5e-4],[33.25,1.05e-3],[33.5,1.12e-3],[33.75,1.08e-3],[34.0,1.05e-3],[34.3,9.8e-4],[34.6,9.1e-4],[35.0,9.6e-4],[35.5,1.0e-3],[36.0,9.8e-4],[36.5,1.05e-3],[37.0,1.12e-3],[37.25,1.15e-3],[37.5,1.2e-3],[37.75,1.05e-3],[38.0,8.5e-4],[38.2,6.0e-4],[38.4,9.0e-4],[38.6,8.6e-4],[38.8,8.2e-4],[39.05,7.9e-4],[39.3,7.6e-4],[39.6,7.0e-4],[39.9,6.6e-4],[40.2,6.2e-4],[40.5,5.8e-4],[40.75,5.3e-4],[41.0,5.0e-4],[41.3,4.7e-4],[41.6,4.4e-4],[42.0,4.1e-4],[42.3,3.9e-4],[42.65,3.6e-4],[43.0,3.4e-4],[43.5,3.1e-4],[44.0,2.8e-4],[44.5,2.7e-4],[45.0,2.6e-4],[45.3,2.5e-4],[45.6,2.4e-4],[46.0,2.35e-4],[46.3,2.3e-4],[46.45,null],[47.4,1.8e-4],[47.65,1.55e-4],[47.9,1.9e-4],[48.15,1.6e-4],[48.4,1.85e-4],[48.65,1.5e-4],[48.9,1.95e-4],[49.15,1.65e-4],[49.4,1.8e-4],[49.65,1.55e-4],[49.9,1.9e-4],[50.15,1.6e-4],[50.4,1.85e-4],[50.65,1.5e-4],[50.9,1.75e-4],[51.15,1.6e-4],[51.4,1.9e-4],[51.65,1.55e-4],[51.9,1.8e-4],[52.15,1.65e-4],[52.4,1.9e-4],[52.65,1.5e-4],[52.9,1.8e-4],[53.15,1.6e-4],[53.4,1.85e-4],[53.65,1.55e-4],[53.9,1.9e-4],[54.15,1.6e-4],[54.4,1.8e-4],[54.65,1.5e-4],[54.9,1.85e-4],[55.15,1.65e-4],[55.4,1.9e-4],[55.65,1.6e-4],[56.0,1.8e-4]]

const R_P38: Pt[] = [[18.0,1.0e-4],[18.25,1.25e-4],[18.5,0.95e-4],[18.75,1.2e-4],[19.0,1.05e-4],[19.25,1.3e-4],[19.5,0.9e-4],[19.75,1.15e-4],[20.0,1.0e-4],[20.25,1.25e-4],[20.5,0.95e-4],[20.75,1.2e-4],[21.0,1.1e-4],[21.2,1.3e-4],[21.35,2.5e-4],[21.5,9e-4],[21.65,2.8e-3],[21.8,5.2e-3],[21.9,6.5e-3],[22.0,5.0e-3],[22.15,3.3e-3],[22.3,2.6e-3],[22.6,2.3e-3],[22.9,2.2e-3],[23.2,2.0e-3],[23.5,1.85e-3],[23.8,1.7e-3],[24.1,1.55e-3],[24.4,1.35e-3],[24.8,1.15e-3],[25.1,1.0e-3],[25.5,8.5e-4],[25.8,7.5e-4],[26.0,6.0e-4],[26.2,5.0e-4],[26.4,3.6e-4],[26.6,2.5e-4],[26.8,2.0e-4],[27.0,1.8e-4],[27.3,1.6e-4],[27.6,1.5e-4],[27.85,1.2e-4],[28.1,1.4e-4],[28.35,1.05e-4],[28.6,1.3e-4],[28.85,1.0e-4],[29.1,1.35e-4],[29.35,1.1e-4],[29.6,1.25e-4],[29.85,0.95e-4],[30.1,1.3e-4],[30.35,1.05e-4],[30.6,1.4e-4],[30.85,1.0e-4],[31.1,1.2e-4],[31.35,0.9e-4],[31.6,1.3e-4],[31.85,1.1e-4],[32.1,1.4e-4],[32.35,0.95e-4],[32.6,1.25e-4],[32.85,1.05e-4],[33.1,1.35e-4],[33.35,0.9e-4],[33.6,1.2e-4],[33.85,1.0e-4],[34.1,1.3e-4],[34.35,1.1e-4],[34.6,1.45e-4],[34.85,0.95e-4],[35.1,1.25e-4],[35.35,1.05e-4],[35.6,1.35e-4],[35.85,0.9e-4],[36.1,1.2e-4],[36.35,1.0e-4],[36.6,1.3e-4],[36.85,1.1e-4],[37.1,1.4e-4],[37.35,0.95e-4],[37.6,1.25e-4],[37.85,1.05e-4],[38.1,1.3e-4],[38.35,0.9e-4],[38.6,1.2e-4],[38.85,1.0e-4],[39.1,1.35e-4],[39.35,1.1e-4],[39.6,1.4e-4],[39.85,0.95e-4],[40.1,1.25e-4],[40.35,1.05e-4],[40.6,1.3e-4],[40.85,0.9e-4],[41.1,1.2e-4],[41.35,1.0e-4],[41.6,1.35e-4],[41.85,1.1e-4],[42.1,1.45e-4],[42.35,0.95e-4],[42.6,1.25e-4],[42.85,1.05e-4],[43.1,1.35e-4],[43.35,0.9e-4],[43.6,1.2e-4],[43.85,1.0e-4],[44.1,1.3e-4],[44.35,1.1e-4],[44.6,1.6e-4],[44.85,1.0e-4],[45.1,1.4e-4],[45.35,1.15e-4],[45.6,1.5e-4],[45.85,1.05e-4],[46.1,1.4e-4],[46.3,1.2e-4],[46.45,null],[47.4,1.45e-4],[47.65,1.7e-4],[47.9,1.3e-4],[48.15,1.6e-4],[48.4,1.25e-4],[48.65,1.55e-4],[48.9,1.35e-4],[49.15,1.65e-4],[49.4,1.2e-4],[49.65,1.5e-4],[49.9,1.3e-4],[50.15,1.6e-4],[50.4,1.25e-4],[50.65,1.55e-4],[50.9,1.3e-4],[51.15,1.65e-4],[51.4,1.2e-4],[51.65,1.5e-4],[51.9,1.35e-4],[52.15,1.6e-4],[52.4,1.25e-4],[52.65,1.55e-4],[52.9,1.3e-4],[53.15,1.6e-4],[53.4,1.2e-4],[53.65,1.5e-4],[53.9,1.35e-4],[54.15,1.65e-4],[54.4,1.25e-4],[54.65,1.55e-4],[54.9,1.3e-4],[55.15,1.6e-4],[55.4,1.2e-4],[55.65,1.5e-4],[56.0,1.4e-4]]

const R_E: Pt[] = [[18.0,4.0e-5],[18.25,3.2e-5],[18.5,4.6e-5],[18.75,2.8e-5],[19.0,4.2e-5],[19.25,3.5e-5],[19.5,1.7e-5],[19.75,4.4e-5],[20.0,3.1e-5],[20.25,4.7e-5],[20.5,3.4e-5],[20.75,2.5e-5],[21.0,4.1e-5],[21.2,3.0e-5],[21.35,6e-5],[21.5,1.8e-4],[21.65,4.0e-4],[21.8,5.8e-4],[21.95,6.3e-4],[22.1,5.3e-4],[22.4,4.9e-4],[22.7,4.3e-4],[23.0,4.1e-4],[23.3,3.8e-4],[23.6,3.4e-4],[24.0,3.2e-4],[24.3,2.8e-4],[24.7,2.6e-4],[25.0,2.3e-4],[25.3,2.0e-4],[25.6,1.8e-4],[25.9,1.6e-4],[26.2,1.45e-4],[26.5,1.3e-4],[26.8,1.2e-4],[27.1,1.05e-4],[27.4,1.1e-4],[27.7,0.95e-4],[28.0,0.9e-4],[28.25,7.0e-5],[28.5,8.5e-5],[28.75,6.4e-5],[29.0,7.8e-5],[29.25,5.6e-5],[29.5,7.2e-5],[29.75,5.0e-5],[30.0,6.6e-5],[30.25,4.8e-5],[30.5,6.1e-5],[30.75,4.2e-5],[31.0,5.8e-5],[31.25,3.6e-5],[31.5,5.5e-5],[31.75,4.5e-5],[32.0,6.0e-5],[32.25,2.9e-5],[32.5,5.2e-5],[32.75,4.1e-5],[33.0,5.6e-5],[33.25,3.8e-5],[33.5,6.2e-5],[33.75,4.4e-5],[34.0,5.4e-5],[34.25,3.3e-5],[34.5,5.0e-5],[34.75,4.6e-5],[35.0,6.0e-5],[35.25,3.9e-5],[35.5,5.3e-5],[35.75,4.3e-5],[36.0,5.7e-5],[36.25,3.5e-5],[36.5,5.1e-5],[36.75,4.0e-5],[37.0,5.5e-5],[37.25,4.5e-5],[37.5,6.1e-5],[37.75,3.7e-5],[38.0,5.2e-5],[38.25,4.2e-5],[38.5,5.8e-5],[38.75,3.4e-5],[39.0,5.0e-5],[39.25,4.4e-5],[39.5,5.9e-5],[39.75,3.8e-5],[40.0,5.3e-5],[40.25,4.6e-5],[40.5,6.2e-5],[40.75,3.2e-5],[41.0,5.4e-5],[41.25,4.3e-5],[41.5,5.8e-5],[41.75,3.6e-5],[42.0,5.1e-5],[42.25,4.4e-5],[42.5,6.0e-5],[42.75,2.6e-5],[43.0,5.0e-5],[43.25,4.2e-5],[43.5,5.7e-5],[43.75,3.9e-5],[44.0,5.4e-5],[44.25,4.7e-5],[44.5,6.1e-5],[44.75,3.6e-5],[45.0,5.2e-5],[45.25,4.4e-5],[45.5,5.9e-5],[45.75,4.0e-5],[46.0,5.3e-5],[46.3,4.5e-5],[46.45,null],[47.4,4.2e-5],[47.65,3.1e-5],[47.9,4.8e-5],[48.15,3.6e-5],[48.4,5.0e-5],[48.65,2.9e-5],[48.9,4.6e-5],[49.15,3.8e-5],[49.4,5.1e-5],[49.65,2.2e-5],[49.9,4.4e-5],[50.15,3.5e-5],[50.4,5.2e-5],[50.65,4.0e-5],[50.9,5.5e-5],[51.15,3.3e-5],[51.4,4.9e-5],[51.65,4.1e-5],[51.9,5.6e-5],[52.15,3.7e-5],[52.4,5.0e-5],[52.65,4.3e-5],[52.9,5.8e-5],[53.15,3.4e-5],[53.4,4.8e-5],[53.65,2.5e-5],[53.9,4.6e-5],[54.15,3.9e-5],[54.4,5.4e-5],[54.65,4.2e-5],[54.9,5.7e-5],[55.15,3.6e-5],[55.4,5.1e-5],[55.65,4.4e-5],[56.0,5.2e-5]]

// ---- (b) 1999 solar wind ----
const R_VSW: Pt[] = [[18.0,370],[18.15,366],[18.3,378],[18.45,385],[18.6,392],[18.75,390],[18.9,386],[19.05,382],[19.2,377],[19.35,368],[19.5,362],[19.65,385],[19.8,400],[20.0,398],[20.2,397],[20.45,395],[20.7,392],[20.85,385],[21.0,377],[21.15,390],[21.3,408],[21.55,410],[21.8,412],[22.1,414],[22.4,415],[22.55,420],[22.7,441],[22.95,442],[23.2,443],[23.55,446],[23.9,445],[24.15,440],[24.4,437],[24.6,433],[24.8,430],[25.1,426],[25.4,423],[25.55,506],[25.8,505],[26.0,502],[26.3,500],[26.6,498],[26.9,490],[27.2,480],[27.5,470],[27.8,460],[28.05,455],[28.3,448],[28.55,443],[28.8,438],[29.0,498],[29.4,494],[29.8,490],[30.25,486],[30.7,483],[31.1,476],[31.5,470],[31.85,466],[32.2,460],[32.6,452],[33.0,446],[33.35,438],[33.7,430],[34.05,433],[34.4,436],[34.8,440],[35.2,445],[35.5,438],[35.8,430],[36.1,422],[36.4,415],[36.65,410],[36.9,408],[37.15,404],[37.4,405],[37.55,468],[37.8,464],[38.1,460],[38.4,457],[38.7,453],[39.0,447],[39.3,440],[39.6,435],[39.9,430],[40.2,425],[40.5,420],[40.8,414],[41.1,408],[41.3,420],[41.5,435],[41.65,447],[41.8,453],[42.15,448],[42.5,443],[42.85,437],[43.2,430],[43.6,424],[44.0,418],[44.3,413],[44.6,408],[44.8,404],[45.0,400],[45.35,394],[45.7,388],[46.05,381],[46.4,374],[46.6,null],[47.6,347],[47.8,344],[48.0,350],[48.25,352],[48.5,355],[48.75,357],[49.0,358],[49.2,360],[49.4,362],[49.7,350],[50.0,340],[50.35,344],[50.7,348],[51.1,352],[51.5,355],[51.75,356],[52.0,358],[52.25,360],[52.5,362],[52.65,385],[52.8,408],[53.05,414],[53.3,420],[53.55,430],[53.8,438],[54.1,442],[54.4,445],[54.65,452],[54.9,460],[55.1,450],[55.3,438],[55.5,440],[55.7,436],[55.85,433],[56.0,430]]

const R_B: Pt[] = [[18.0,0.58],[18.08,0.50],[18.15,0.40],[18.3,0.70],[18.45,0.90],[18.6,1.07],[18.75,0.95],[18.9,0.83],[19.05,0.80],[19.2,0.78],[19.35,0.85],[19.5,0.89],[19.65,1.10],[19.8,1.26],[19.95,1.15],[20.1,1.10],[20.2,1.07],[20.35,1.20],[20.5,1.15],[20.6,1.00],[20.7,0.95],[20.85,1.25],[21.0,1.56],[21.08,1.20],[21.15,0.9],[21.22,1.10],[21.3,1.32],[21.38,1.60],[21.45,1.80],[21.52,1.40],[21.6,1.1],[21.65,0.95],[21.7,0.83],[21.78,1.40],[21.85,1.93],[21.95,1.60],[22.1,1.32],[22.25,1.20],[22.4,1.07],[22.55,0.70],[22.7,0.34],[22.9,0.45],[23.1,0.50],[23.3,0.48],[23.6,0.50],[23.9,0.52],[24.2,0.60],[24.5,0.65],[24.65,0.80],[24.8,0.95],[24.95,0.70],[25.1,0.52],[25.25,0.80],[25.4,0.95],[25.55,1.60],[25.7,2.29],[25.78,1.80],[25.85,1.5],[25.92,1.90],[26.0,1.68],[26.08,1.55],[26.15,1.4],[26.22,1.80],[26.3,2.05],[26.45,1.60],[26.6,1.32],[26.75,1.50],[26.9,1.68],[27.05,1.45],[27.2,1.3],[27.35,1.25],[27.5,1.19],[27.65,0.95],[27.8,0.83],[27.95,0.95],[28.1,0.9],[28.25,0.85],[28.4,0.95],[28.6,0.98],[28.8,1.01],[28.9,0.70],[29.0,0.34],[29.25,0.30],[29.5,0.32],[29.8,0.33],[30.1,0.34],[30.55,0.40],[31.0,0.45],[31.45,0.48],[31.9,0.52],[32.25,0.48],[32.6,0.5],[33.0,0.48],[33.4,0.52],[33.6,0.40],[33.8,0.16],[34.05,0.40],[34.3,0.65],[34.5,0.40],[34.7,0.16],[34.95,0.50],[35.2,0.89],[35.35,0.80],[35.5,0.75],[35.65,0.70],[35.8,0.65],[36.05,0.55],[36.3,0.6],[36.5,0.56],[36.7,0.52],[36.9,0.40],[37.1,0.22],[37.3,0.80],[37.55,1.26],[37.8,1.15],[38.0,1.2],[38.2,1.10],[38.4,1.13],[38.65,1.05],[38.9,1.0],[39.1,0.95],[39.3,0.89],[39.5,1.20],[39.7,1.50],[39.85,1.30],[40.0,1.2],[40.1,1.10],[40.2,1.07],[40.35,1.25],[40.5,1.38],[40.7,1.30],[40.9,1.3],[41.05,1.28],[41.2,1.32],[41.35,0.90],[41.5,0.58],[41.65,0.45],[41.8,0.34],[42.15,0.38],[42.5,0.4],[42.85,0.42],[43.2,0.40],[43.5,0.45],[43.8,0.5],[44.1,0.56],[44.4,0.61],[44.7,0.60],[45.0,0.58],[45.25,0.55],[45.5,0.52],[45.9,0.48],[46.3,0.46],[46.6,null],[47.2,0.40],[47.45,0.38],[47.7,0.36],[47.95,0.38],[48.2,0.34],[48.4,0.38],[48.6,0.4],[48.85,0.46],[49.1,0.52],[49.35,0.55],[49.6,0.58],[49.8,0.62],[50.0,0.65],[50.15,0.50],[50.3,0.4],[50.45,0.30],[50.6,0.16],[50.75,0.40],[50.9,0.6],[51.05,0.70],[51.2,0.83],[51.3,0.65],[51.4,0.5],[51.5,0.35],[51.6,0.22],[51.7,0.45],[51.85,0.7],[51.95,0.80],[52.1,0.89],[52.25,0.85],[52.4,0.8],[52.55,0.88],[52.7,0.95],[52.85,1.30],[53.0,1.68],[53.1,1.55],[53.2,1.4],[53.3,1.90],[53.4,2.29],[53.5,1.90],[53.6,1.6],[53.7,1.80],[53.8,1.74],[53.95,1.50],[54.1,1.3],[54.25,1.40],[54.4,1.44],[54.55,1.70],[54.7,2.05],[54.75,1.20],[54.8,0.46],[54.9,0.90],[55.0,1.3],[55.15,1.45],[55.3,1.62],[55.5,1.50],[55.7,1.4],[55.85,1.55],[56.0,1.50]]

const R_PHI: Pt[] = [[18.0,311],[18.08,300],[18.15,295],[18.22,200],[18.3,134],[18.55,130],[18.8,128],[18.95,120],[19.1,113],[19.3,105],[19.5,97],[19.65,95],[19.8,87],[19.9,80],[20.0,75],[20.1,68],[20.2,61],[20.3,56],[20.4,50],[20.5,70],[20.6,87],[20.7,327],[20.8,97],[20.9,329],[21.0,87],[21.1,316],[21.2,97],[21.35,180],[21.5,254],[21.65,280],[21.8,306],[21.95,310],[22.1,316],[22.25,330],[22.4,348],[22.5,149],[22.6,250],[22.7,327],[22.8,19],[22.96,14],[23.05,348],[23.2,3],[23.4,348],[23.65,335],[23.9,327],[24.15,310],[24.4,295],[24.6,290],[24.8,285],[24.95,300],[25.1,316],[25.2,280],[25.3,233],[25.4,160],[25.5,97],[25.75,95],[26.0,92],[26.25,85],[26.5,76],[26.7,88],[26.9,97],[27.15,80],[27.4,66],[27.65,75],[27.9,87],[28.1,80],[28.3,76],[28.5,88],[28.7,97],[28.8,130],[28.9,160],[29.05,150],[29.15,139],[29.3,155],[29.4,170],[29.55,130],[29.7,97],[29.95,92],[30.2,87],[30.45,95],[30.7,97],[30.9,100],[31.1,102],[31.25,140],[31.4,170],[31.55,165],[31.7,160],[31.85,200],[31.95,254],[32.05,220],[32.2,181],[32.35,165],[32.5,149],[32.75,145],[33.0,139],[33.2,128],[33.35,118],[33.5,125],[33.7,128],[33.8,115],[33.9,102],[34.1,100],[34.3,97],[34.4,92],[34.5,87],[34.6,160],[34.75,254],[34.9,290],[35.0,316],[35.15,318],[35.3,321],[35.55,318],[35.8,316],[35.9,34],[36.05,327],[36.25,330],[36.5,337],[36.6,201],[36.75,280],[36.95,327],[37.1,280],[37.2,222],[37.3,280],[37.4,316],[37.55,300],[37.7,295],[37.8,200],[37.9,118],[38.05,200],[38.25,285],[38.4,275],[38.5,264],[38.65,150],[38.8,66],[38.95,55],[39.1,45],[39.2,100],[39.3,139],[39.4,120],[39.5,97],[39.7,200],[39.9,311],[40.05,300],[40.2,295],[40.45,300],[40.7,306],[40.9,320],[41.05,332],[41.12,240],[41.2,160],[41.3,190],[41.4,212],[41.5,195],[41.6,181],[41.75,140],[41.9,97],[42.0,200],[42.1,348],[42.18,200],[42.25,66],[42.35,200],[42.45,327],[42.55,200],[42.7,66],[42.75,200],[42.8,353],[42.9,200],[43.0,76],[43.15,200],[43.3,306],[43.4,200],[43.5,118],[43.6,95],[43.7,76],[43.85,90],[44.0,97],[44.2,102],[44.4,107],[44.65,100],[44.9,97],[45.15,95],[45.4,92],[45.6,100],[45.8,107],[46.0,100],[46.2,97],[46.35,null],[47.0,97],[47.3,95],[47.6,92],[47.9,70],[48.2,55],[48.35,90],[48.5,128],[48.6,230],[48.7,332],[48.75,180],[48.8,24],[48.95,160],[49.1,306],[49.4,320],[49.7,348],[49.75,270],[49.8,191],[49.85,120],[49.9,66],[50.05,200],[50.2,316],[50.4,305],[50.6,295],[50.75,180],[50.9,61],[50.95,150],[51.0,264],[51.15,290],[51.3,306],[51.55,310],[51.8,316],[51.95,295],[52.1,274],[52.25,285],[52.4,295],[52.55,290],[52.7,285],[52.8,250],[52.85,212],[53.0,170],[53.2,128],[53.35,115],[53.5,107],[53.65,104],[53.8,102],[54.0,80],[54.2,55],[54.25,80],[54.3,107],[54.5,130],[54.7,160],[54.85,130],[55.0,107],[55.15,100],[55.3,97],[55.45,130],[55.6,160],[55.8,120],[56.0,97]]

const R_THETA: Pt[] = [[18.0,-29],[18.08,-44],[18.15,-50],[18.3,48],[18.45,30],[18.6,23],[18.75,0],[18.9,7],[19.05,-20],[19.2,-13],[19.35,10],[19.5,12],[19.65,-15],[19.8,-34],[19.95,-10],[20.1,-3],[20.25,-30],[20.4,-24],[20.55,0],[20.7,-3],[20.85,-65],[21.0,-24],[21.1,-70],[21.2,-75],[21.3,-10],[21.4,38],[21.55,59],[21.7,17],[21.85,69],[21.95,30],[22.1,38],[22.25,10],[22.4,-24],[22.55,-10],[22.7,7],[22.85,30],[23.0,43],[23.3,35],[23.6,23],[23.75,10],[23.9,-3],[24.15,-5],[24.4,-18],[24.6,-30],[24.8,-44],[24.95,-40],[25.1,-55],[25.25,48],[25.4,-20],[25.55,-75],[25.7,-40],[25.85,-3],[26.0,40],[26.1,64],[26.25,30],[26.4,7],[26.65,-10],[26.9,-24],[27.2,-10],[27.5,2],[27.65,-15],[27.8,-24],[28.0,0],[28.2,17],[28.35,-10],[28.5,-34],[28.75,-5],[29.0,7],[29.2,20],[29.4,33],[29.55,15],[29.7,2],[29.9,-15],[30.1,-34],[30.35,-10],[30.6,7],[30.8,0],[31.0,12],[31.15,20],[31.3,28],[31.6,30],[31.9,38],[32.2,35],[32.5,33],[32.8,20],[33.1,7],[33.25,0],[33.4,-13],[33.6,0],[33.85,17],[34.0,-5],[34.1,-29],[34.25,20],[34.4,69],[34.55,0],[34.7,-65],[34.85,-20],[35.0,7],[35.25,30],[35.5,59],[35.7,65],[35.9,79],[36.05,70],[36.2,59],[36.35,-75],[36.5,-20],[36.7,7],[36.85,40],[37.0,74],[37.15,10],[37.3,-44],[37.5,-55],[37.7,-65],[37.85,-40],[38.0,-55],[38.2,-60],[38.4,-75],[38.55,-40],[38.7,-13],[38.85,-50],[39.0,-65],[39.2,79],[39.4,60],[39.6,48],[39.75,35],[39.9,28],[40.05,84],[40.2,-44],[40.35,10],[40.5,38],[40.75,30],[41.0,33],[41.1,15],[41.25,-3],[41.5,20],[41.7,38],[41.9,20],[42.1,7],[42.25,59],[42.4,40],[42.6,28],[42.8,35],[43.0,48],[43.15,60],[43.3,69],[43.5,60],[43.7,53],[43.9,10],[44.1,-34],[44.25,-10],[44.4,7],[44.7,-5],[45.0,-13],[45.25,-10],[45.5,-8],[45.75,-25],[46.0,-44],[46.2,-20],[46.4,7],[46.6,null],[47.0,-34],[47.15,0],[47.3,23],[47.55,10],[47.8,-3],[48.0,-20],[48.2,-13],[48.45,-30],[48.7,-44],[48.9,-25],[49.1,-13],[49.4,-25],[49.7,-34],[49.95,-45],[50.2,-55],[50.4,-30],[50.6,-13],[50.7,20],[50.8,64],[50.9,0],[51.0,-65],[51.15,0],[51.3,48],[51.45,-10],[51.6,-65],[51.75,0],[51.9,48],[52.05,0],[52.2,-44],[52.35,10],[52.5,64],[52.65,0],[52.8,-44],[53.0,-15],[53.2,7],[53.45,20],[53.7,17],[53.9,5],[54.1,-3],[54.25,10],[54.4,17],[54.65,5],[54.9,2],[55.1,15],[55.3,28],[55.45,10],[55.6,-3],[55.8,-10],[56.0,-24]]

// ---- drawing ----
type Row = { d: number; v: number | null }
const rows = (pts: Pt[]): Row[] => pts.map(([d, v]) => ({ d, v }))

function DayTick(props: any) {
  const { x, y, payload, showLabel } = props
  const major = payload.value % 3 === 0
  return (
    <g>
      <line x1={x} x2={x} y1={y - (major ? 5 : 3.5)} y2={y + (major ? 7 : 2)} stroke={FRAME} strokeWidth={1.2} />
      {showLabel && major && (
        <text x={x} y={y + 27} textAnchor="middle" dominantBaseline="central" fontSize={19} fontFamily={FONT} fill={INK}>
          {payload.value}
        </text>
      )}
    </g>
  )
}

function PowTick(props: any) {
  const { x, y, payload } = props
  const exp = Math.round(Math.log10(payload.value))
  return (
    <text x={x} y={y} textAnchor="end" dominantBaseline="central" fontSize={18} fontFamily={FONT} fill={INK}>
      10<tspan dy={-7} fontSize={12}>{exp}</tspan>
    </text>
  )
}

function arrowShape(p: any) {
  const { x1, y1, x2, y2 } = p
  return (
    <g>
      <line x1={x1} y1={y1} x2={x2} y2={y2} stroke="#222" strokeWidth={1.2} />
      <path d={`M${x2 - 3.5},${y2 - 9} L${x2},${y2} L${x2 + 3.5},${y2 - 9}`} fill="none" stroke="#222" strokeWidth={1.2} />
    </g>
  )
}

interface PanelProps {
  left: number
  top: number
  width: number
  height: number
  xDomain: [number, number]
  xTicks: number[]
  yDomain: [number, number]
  yTicks: number[]
  log?: boolean
  lines: Pt[][]
  lw?: number
  labels?: boolean
  children?: ReactNode
}

function Panel({ left, top, width, height, xDomain, xTicks, yDomain, yTicks, log, lines, lw = 1.7, labels, children }: PanelProps) {
  return (
    <div style={{ position: 'absolute', left: left - YW, top }}>
      <LineChart width={width + YW} height={height + 1} margin={{ top: 0, right: 0, bottom: 0, left: 0 }}>
        <XAxis
          dataKey="d"
          type="number"
          domain={xDomain}
          ticks={xTicks}
          interval={0}
          allowDataOverflow
          height={1}
          tickSize={0}
          tickMargin={0}
          tickLine={false}
          axisLine={{ stroke: FRAME, strokeWidth: 1.5 }}
          tick={<DayTick showLabel={labels} />}
        />
        <YAxis
          type="number"
          width={YW}
          scale={log ? 'log' : 'linear'}
          domain={yDomain}
          ticks={yTicks}
          interval={0}
          allowDataOverflow
          tickSize={6}
          tickMargin={5}
          tickLine={{ stroke: FRAME }}
          axisLine={{ stroke: FRAME, strokeWidth: 1.5 }}
          tick={log ? <PowTick /> : { fontSize: 18, fill: INK, fontFamily: FONT }}
        />
        {children}
        {lines.map((pts, i) => (
          <Line
            key={i}
            data={rows(pts)}
            dataKey="v"
            type="linear"
            stroke="#000"
            strokeWidth={lw}
            dot={false}
            activeDot={false}
            connectNulls={false}
            isAnimationActive={false}
          />
        ))}
      </LineChart>
    </div>
  )
}

const TOPS = [59, 245, 379, 516, 651]
const HEIGHTS = [186, 134, 137, 135, 135]
const SEP_DOMAIN: [number, number] = [2.04e-6, 91.2]
const VSW_DOMAIN: [number, number] = [276.5, 883]
const B_DOMAIN: [number, number] = [-0.49, 4.52]
const PHI_DOMAIN: [number, number] = [-31, 391]
const THETA_DOMAIN: [number, number] = [-208, 208]

interface ColumnProps {
  left: number
  width: number
  xDomain: [number, number]
  xTicks: number[]
  sep: Pt[][]
  vsw: Pt[]
  b: Pt[]
  phi: Pt[]
  theta: Pt[]
  events: number[]
  dotted: number[]
  flare: number
  flareTop: number
  flareTip: number
}

function Column(c: ColumnProps) {
  const base = { left: c.left, width: c.width, xDomain: c.xDomain, xTicks: c.xTicks }
  const dots = (key: string) =>
    c.dotted.map((d) => <ReferenceLine key={key + d} x={d} stroke="#8a8a8a" strokeDasharray="1.5 4" strokeWidth={1.1} />)
  return (
    <>
      <Panel {...base} top={TOPS[0]} height={HEIGHTS[0]} yDomain={SEP_DOMAIN} yTicks={SEP_TICKS} log lines={c.sep} lw={2}>
        {dots('s')}
        {c.events.map((d) => (
          <ReferenceLine key={'e' + d} segment={[{ x: d, y: 64 }, { x: d, y: 25 }]} stroke="#222" strokeWidth={1.3} />
        ))}
        <ReferenceLine segment={[{ x: c.flare, y: c.flareTop }, { x: c.flare, y: c.flareTip }]} ifOverflow="visible" shape={arrowShape} />
      </Panel>
      <Panel {...base} top={TOPS[1]} height={HEIGHTS[1]} yDomain={VSW_DOMAIN} yTicks={VSW_TICKS} lines={[c.vsw]} lw={1.8}>
        {dots('v')}
      </Panel>
      <Panel {...base} top={TOPS[2]} height={HEIGHTS[2]} yDomain={B_DOMAIN} yTicks={B_TICKS} lines={[c.b]} lw={1.7}>
        {dots('b')}
      </Panel>
      <Panel {...base} top={TOPS[3]} height={HEIGHTS[3]} yDomain={PHI_DOMAIN} yTicks={PHI_TICKS} lines={[c.phi]} lw={1.6}>
        {PHI_SPIRAL.map((v) => (
          <ReferenceLine key={'p' + v} y={v} stroke="#555" strokeWidth={1.5} strokeDasharray="16 7" />
        ))}
      </Panel>
      <Panel {...base} top={TOPS[4]} height={HEIGHTS[4]} yDomain={THETA_DOMAIN} yTicks={THETA_TICKS} lines={[c.theta]} lw={1.6} labels />
    </>
  )
}

function Rot({ x, y, children, size = 21 }: { x: number; y: number; children: ReactNode; size?: number }) {
  return (
    <text x={x} y={y} transform={`rotate(-90 ${x} ${y})`} textAnchor="middle" dominantBaseline="central" fontSize={size} fontFamily={FONT} fill={INK}>
      {children}
    </text>
  )
}

function Vsw() {
  return (
    <>
      v<tspan dy={6} fontSize={15}>SW</tspan>
      <tspan dy={-6}>{'\u00a0\u00a0(km/s)'}</tspan>
    </>
  )
}

export default function App() {
  return (
    <div style={{ position: 'absolute', left: 0, top: 0, width: 1320, height: 875, background: '#fff', overflow: 'hidden' }}>
      <style>{'.recharts-surface{overflow:visible}.recharts-wrapper{overflow:visible}'}</style>
      <Column
        left={96}
        width={540}
        xDomain={[232, 270]}
        xTicks={LEFT_DAYS}
        sep={[L_P13, L_P54, L_P38, L_E]}
        vsw={L_VSW}
        b={L_B}
        phi={L_PHI}
        theta={L_THETA}
        events={LEFT_EVENTS}
        dotted={LEFT_DOTTED}
        flare={LEFT_FLARE}
        flareTop={140}
        flareTip={6.5}
      />
      <Column
        left={774}
        width={543}
        xDomain={[18, 56]}
        xTicks={RIGHT_DAYS}
        sep={[R_P13, R_P54, R_P38, R_E]}
        vsw={R_VSW}
        b={R_B}
        phi={R_PHI}
        theta={R_THETA}
        events={RIGHT_EVENTS}
        dotted={RIGHT_DOTTED}
        flare={RIGHT_FLARE}
        flareTop={115}
        flareTip={3.1}
      />
      <svg width={1320} height={875} style={{ position: 'absolute', left: 0, top: 0, pointerEvents: 'none' }}>
        <g stroke={FRAME} strokeWidth={1.5} fill="none">
          <polyline points="96,59 636,59 636,786" />
          <polyline points="774,59 1317,59 1317,786" />
        </g>
        <g fontFamily={FONT} fill={INK}>
          <text x={403} y={27} textAnchor="middle" dominantBaseline="central" fontSize={34.5}>(a) - 24 Aug 1998 - 5AU</text>
          <text x={1030} y={27} textAnchor="middle" dominantBaseline="central" fontSize={34.5}>(b) - 20 Jan 1999 - 5AU</text>
          <text x={174} y={40} textAnchor="middle" dominantBaseline="central" fontSize={20}>flare</text>
          <text x={814} y={43} textAnchor="middle" dominantBaseline="central" fontSize={20}>flare</text>
          <text x={429} y={98} dominantBaseline="central" fontSize={19}>p 1.3-2.2 MeV</text>
          <text x={478} y={155} dominantBaseline="central" fontSize={19}>p 5.4-25 MeV</text>
          <text x={330} y={182} dominantBaseline="central" fontSize={19}>p 38-125 MeV</text>
          <text x={446} y={230} dominantBaseline="central" fontSize={19}>e 3-10 MeV</text>
          <text x={366} y={856} textAnchor="middle" dominantBaseline="central" fontSize={26}>Day in 1998</text>
          <text x={1046} y={858} textAnchor="middle" dominantBaseline="central" fontSize={26}>Day in 1999</text>
        </g>
        <Rot x={23} y={150}>SEP fluxes / rates</Rot>
        <Rot x={21} y={316}><Vsw /></Rot>
        <Rot x={32} y={447}>|B| (nT)</Rot>
        <Rot x={24} y={583} size={24}>φ</Rot>
        <Rot x={25} y={715} size={24}>θ</Rot>
        <Rot x={701} y={150}>SEP fluxes / rates</Rot>
        <Rot x={704} y={316}><Vsw /></Rot>
        <Rot x={708} y={447}>|B| (nT)</Rot>
        <Rot x={711} y={583} size={24}>φ</Rot>
        <Rot x={715} y={715} size={24}>θ</Rot>
      </svg>
    </div>
  )
}
